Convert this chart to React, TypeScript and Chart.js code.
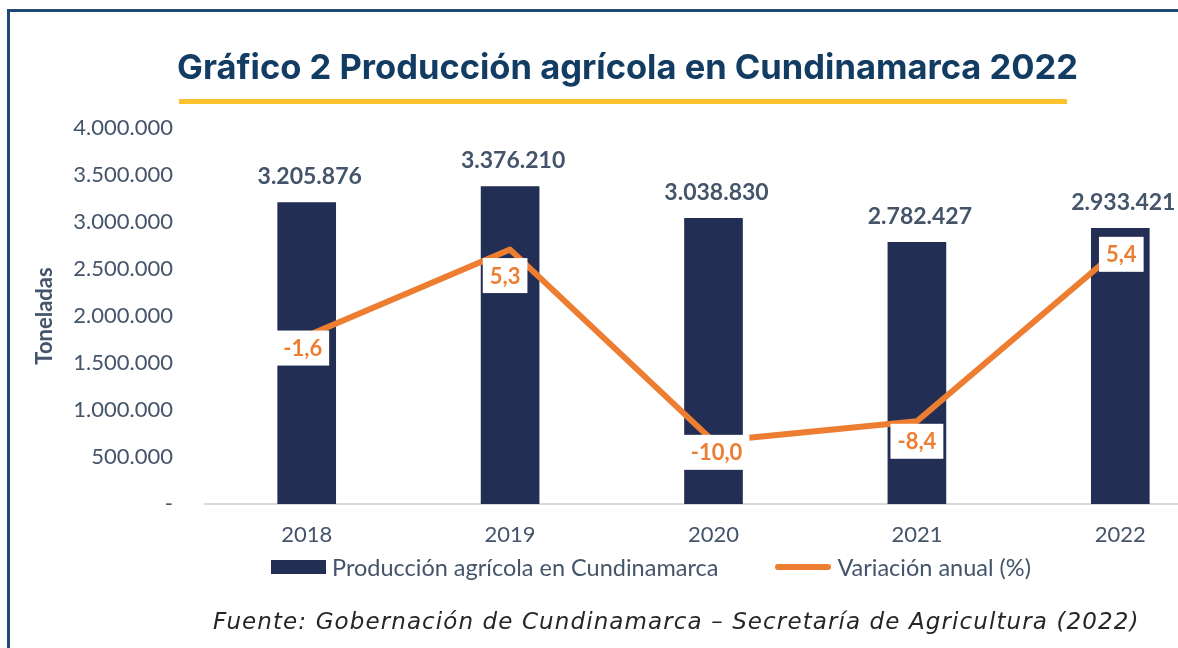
import React, { useEffect, useRef } from 'react';
import { Chart, registerables } from 'chart.js';

Chart.register(...registerables);

// ---- data ----
const years = ['2018', '2019', '2020', '2021', '2022'];
const production = [3205876, 3376210, 3038830, 2782427, 2933421];
const variation = [-1.6, 5.3, -10.0, -8.4, 5.4];
const seriesNames = ['Producción agrícola en Cundinamarca', 'Variación anual (%)'];
const titleText = 'Gráfico 2 Producción agrícola en Cundinamarca 2022';
const sourceText = 'Fuente: Gobernación de Cundinamarca – Secretaría de Agricultura (2022)';
const axisTitle = 'Toneladas';
const yMin = 0;
const yMax = 4000000;
const yStep = 500000;
const y2Min = -15;
const y2Max = 15;

// ---- styles ----
const NAVY = '#232E54';
const ORANGE = '#ED7D31';
const TEXT = '#44546A';
const BORDER = '#1F4A75';
const YELLOW = '#FCC22D';

// nudges of the variation labels, as placed in the original
const varLabelDx = [-4, -5, 3, 0, 1];
const varLabelDy = [12, 26, 11, 20, 6];

const fmtThousands = (n: number) =>
  String(Math.round(n)).replace(/\B(?=(\d{3})+(?!\d))/g, '.');
const fmtDec = (v: number) => v.toFixed(1).replace('.', ',');

const labelsPlugin = {
  id: 'valueLabels',
  afterDatasetsDraw(chart: any) {
    const ctx = chart.ctx;
    const barMeta = chart.getDatasetMeta(0);
    const lineMeta = chart.getDatasetMeta(1);
    ctx.save();
    ctx.textAlign = 'center';
    ctx.textBaseline = 'middle';
    ctx.font = 'bold 23px Lato';
    ctx.fillStyle = TEXT;
    barMeta.data.forEach((el: any, i: number) => {
      ctx.fillText(fmtThousands(production[i]), el.x + 3, el.y - 26);
    });
    ctx.font = 'bold 22px Lato';
    lineMeta.data.forEach((pt: any, i: number) => {
      const txt = fmtDec(variation[i]);
      const w = ctx.measureText(txt).width + 14;
      const h = 35;
      const cx = pt.x + varLabelDx[i];
      const cy = pt.y + varLabelDy[i];
      ctx.fillStyle = '#FFFFFF';
      ctx.fillRect(cx - w / 2, cy - h / 2, w, h);
      ctx.fillStyle = ORANGE;
      ctx.fillText(txt, cx, cy + 1);
    });
    ctx.restore();
  },
};

export default function App() {
  const canvasRef = useRef<HTMLCanvasElement | null>(null);

  useEffect(() => {
    if (!canvasRef.current) return;
    const chart = new Chart(canvasRef.current, {
      type: 'bar',
      data: {
        labels: years,
        datasets: [
          {
            type: 'bar',
            label: seriesNames[0],
            data: production,
            backgroundColor: NAVY,
            borderWidth: 0,
            barThickness: 58,
            yAxisID: 'y',
            order: 1,
          },
          {
            type: 'line',
            label: seriesNames[1],
            data: variation,
            borderColor: ORANGE,
            backgroundColor: ORANGE,
            borderWidth: 6,
            pointRadius: 0,
            tension: 0,
            borderJoinStyle: 'round',
            yAxisID: 'y2',
            order: 0,
          },
        ],
      } as any,
      options: {
        animation: false,
        responsive: false,
        maintainAspectRatio: false,
        devicePixelRatio: 1,
        layout: { padding: { top: 128, bottom: 97, left: 0, right: 18 } },
        plugins: {
          legend: { display: false },
          title: { display: false },
          tooltip: { enabled: false },
        },
        scales: {
          x: {
            grid: { display: false, drawTicks: false },
            border: { display: true, color: '#D9D9D9', width: 2 },
            ticks: { color: TEXT, font: { family: 'Lato', size: 22 }, padding: 18 },
            afterFit: (s: any) => {
              s.height = 47;
            },
          },
          y: {
            min: yMin,
            max: yMax,
            grid: { display: false, drawTicks: false },
            border: { display: false },
            ticks: {
              stepSize: yStep,
              color: TEXT,
              font: { family: 'Lato', size: 22 },
              padding: 32,
              callback: (v: any) => (Number(v) === 0 ? '-' : fmtThousands(Number(v))),
            },
            title: {
              display: true,
              text: axisTitle,
              color: TEXT,
              font: { family: 'Lato', size: 22, weight: 'bold' },
              padding: { top: 32, bottom: 0 },
            },
            afterFit: (s: any) => {
              s.width = 205;
            },
          },
          y2: {
            display: false,
            min: y2Min,
            max: y2Max,
          },
        },
      } as any,
      plugins: [labelsPlugin],
    });
    const fonts: any = (document as any).fonts;
    if (fonts && fonts.load) {
      Promise.all([
        fonts.load('22px Lato'),
        fonts.load('bold 22px Lato'),
      ]).then(() => chart.update()).catch(() => {});
    }
    return () => chart.destroy();
  }, []);

  return (
    <div
      style={{
        position: 'fixed',
        left: 0,
        top: 0,
        width: 1178,
        height: 648,
        overflow: 'hidden',
        background: '#FFFFFF',
      }}
    >
      <canvas
        ref={canvasRef}
        width={1240}
        height={648}
        style={{ position: 'absolute', left: 0, top: 0, width: 1240, height: 648 }}
      />
      <div
        style={{
          position: 'absolute',
          left: 7,
          top: 9,
          width: 1300,
          height: 800,
          borderLeft: `3px solid ${BORDER}`,
          borderTop: `3px solid ${BORDER}`,
          pointerEvents: 'none',
        }}
      />
      <div
        style={{
          position: 'absolute',
          left: 0,
          top: 46,
          width: 1255,
          textAlign: 'center',
          fontFamily: 'Inter, "Open Sans", sans-serif',
          fontWeight: 700,
          fontSize: 34.5,
          lineHeight: '42px',
          color: '#133C63',
          whiteSpace: 'nowrap',
        }}
      >
        {titleText}
      </div>
      <div
        style={{
          position: 'absolute',
          left: 179,
          top: 99,
          width: 888,
          height: 5,
          background: YELLOW,
        }}
      />
      <div
        style={{
          position: 'absolute',
          left: 271,
          top: 553,
          height: 28,
          display: 'flex',
          alignItems: 'center',
          fontFamily: 'Lato, sans-serif',
          fontSize: 23.5,
          color: TEXT,
          whiteSpace: 'nowrap',
        }}
      >
        <span style={{ display: 'inline-block', width: 55, height: 14, background: NAVY, marginRight: 6 }} />
        <span>{seriesNames[0]}</span>
        <span
          style={{
            display: 'inline-block',
            width: 56,
            height: 6,
            borderRadius: 3,
            background: ORANGE,
            marginLeft: 57,
            marginRight: 6,
          }}
        />
        <span>{seriesNames[1]}</span>
      </div>
      <div
        style={{
          position: 'absolute',
          left: 213,
          top: 606,
          fontFamily: '"DejaVu Sans", sans-serif',
          fontStyle: 'italic',
          fontSize: 23,
          letterSpacing: '1.1px',
          lineHeight: '30px',
          color: '#262626',
          whiteSpace: 'nowrap',
        }}
      >
        {sourceText}
      </div>
    </div>
  );
}
